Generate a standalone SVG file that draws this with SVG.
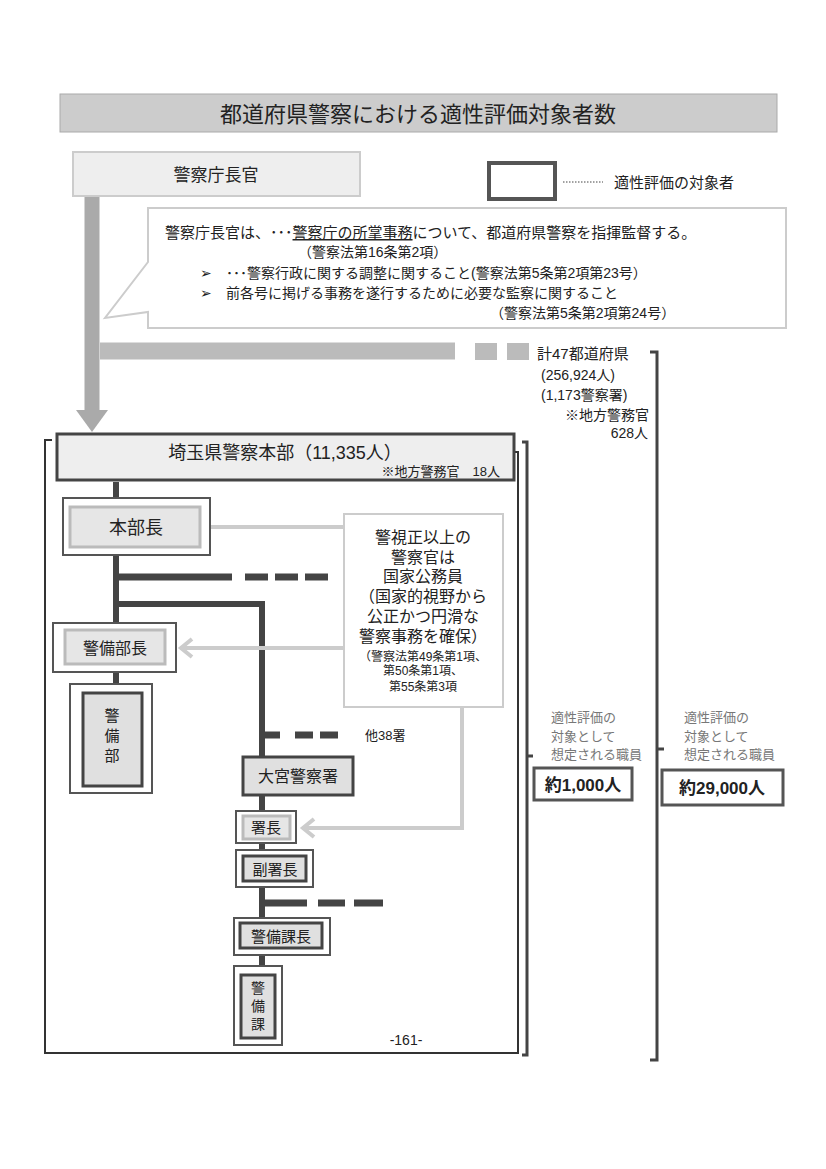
<svg xmlns="http://www.w3.org/2000/svg" width="826" height="1169" viewBox="0 0 826 1169">
<style>
text{font-family:"Liberation Sans","Noto Sans CJK JP",sans-serif;fill:#222}
.c{text-anchor:middle}
.o{fill:#fff;stroke:#555;stroke-width:2}
.i{fill:#e6e6e6;stroke:#bbb;stroke-width:3}
.d{fill:#e0e0e0;stroke:#444;stroke-width:3}
.ln{stroke:#444;stroke-width:6;fill:none}
.g{fill:#777}
.ar{stroke:#ccc;stroke-width:4;fill:none}
</style>
<rect width="826" height="1169" fill="#fff"/>
<g id="title"><rect x="60" y="94" width="717" height="38" fill="#ccc" stroke="#aaa"/>
<text x="418" y="122" class="c" font-size="22">都道府県警察における適性評価対象者数</text></g>
<g id="legend"><rect x="489" y="163" width="66" height="36" fill="#fff" stroke="#555" stroke-width="4"/>
<line x1="563" y1="182" x2="603" y2="182" stroke="#444" stroke-dasharray="1.5 1.5"/>
<text x="614" y="188" font-size="15">適性評価の対象者</text></g>
<g id="connectors">
<path d="M92,196 V412" stroke="#aaa" stroke-width="15"/>
<path d="M76,410 L108,410 L92,432 Z" fill="#aaa"/>
<path d="M100,351 H455" stroke="#bbb" stroke-width="17"/>
<rect x="475" y="343" width="22" height="17" fill="#bbb"/><rect x="507" y="343" width="22" height="17" fill="#bbb"/>
<path d="M116,482 V686" class="ln"/>
<path d="M116,577 H232 M245,577 H268 M275,577 H298 M305,577 H328" stroke="#444" stroke-width="7"/>
<path d="M116,604 H262 V1040" class="ln"/>
<path d="M262,735 H280 M295,735 H313 M320,735 H338" stroke="#444" stroke-width="7"/>
<path d="M262,903 H307 M318,903 H345 M354,903 H383" stroke="#444" stroke-width="7"/>
<path d="M344,527 H182 M192,518 L181,527 L192,536" class="ar"/>
<path d="M344,648 H182 M192,639 L181,648 L192,657" class="ar"/>
<path d="M462,707 V828 H304 M314,819 L303,828 L314,837" class="ar"/>
<path d="M45,455 V440 H52 M45,455 V1053 H518 V452 H512" stroke="#333" stroke-width="2" fill="none"/>
<path d="M522,442 H527 V1055 H522 M527,756 H533" stroke="#444" stroke-width="3" fill="none"/>
<path d="M650,352 H657 V1060 H650 M657,749 H664" stroke="#444" stroke-width="3" fill="none"/>
</g>
<g id="chokan"><rect x="73" y="152" width="287" height="44" fill="#eee" stroke="#ccc" stroke-width="2"/>
<text x="216" y="181" class="c" font-size="17">警察庁長官</text></g>
<g id="callout"><path d="M148,208 H786 V328 H148 V312 L105,318 L148,262 Z" fill="#fff" stroke="#ccc" stroke-width="2"/>
<text x="165" y="238" font-size="15">警察庁長官は、･･･<tspan text-decoration="underline">警察庁の所掌事務</tspan>について、都道府県警察を指揮監督する。</text>
<text x="298" y="257" font-size="14">（警察法第16条第2項）</text>
<text x="200" y="278" font-size="14">➢　･･･警察行政に関する調整に関すること(警察法第5条第2項第23号）</text>
<text x="200" y="298" font-size="14">➢　前各号に掲げる事務を遂行するために必要な監察に関すること</text>
<text x="490" y="318" font-size="14">（警察法第5条第2項第24号）</text></g>
<g id="total" font-size="14"><text x="537" y="359" font-size="15">計47都道府県</text>
<text x="541" y="380">(256,924人)</text><text x="541" y="400">(1,173警察署)</text>
<text x="565" y="420">※地方警務官</text><text x="648" y="438" text-anchor="end">628人</text></g>
<g id="saitama"><rect x="57" y="434" width="457" height="46" fill="#eee" stroke="#444" stroke-width="3"/>
<text x="285" y="459" class="c" font-size="18">埼玉県警察本部（11,335人）</text>
<text x="500" y="476" text-anchor="end" font-size="13">※地方警務官　18人</text></g>
<g id="honbucho"><rect x="63" y="498" width="147" height="57" class="o"/><rect x="70" y="507" width="130" height="40" class="i"/>
<text x="136" y="534" class="c" font-size="18">本部長</text></g>
<g id="keibibucho"><rect x="53" y="623" width="123" height="49" class="o"/><rect x="65" y="630" width="100" height="34" class="i"/>
<text x="115" y="654" class="c" font-size="16">警備部長</text></g>
<g id="keibibu"><rect x="70" y="684" width="82" height="109" class="o"/><rect x="83" y="693" width="59" height="93" class="d"/>
<text x="112" y="721" class="c" font-size="15">警</text><text x="112" y="741" class="c" font-size="15">備</text><text x="112" y="761" class="c" font-size="15">部</text></g>
<g id="shobox"><rect x="344" y="514" width="159" height="193" fill="#fff" stroke="#ccc" stroke-width="2"/>
<g font-size="16"><text x="423" y="543" class="c">警視正以上の</text><text x="423" y="563" class="c">警察官は</text>
<text x="423" y="582" class="c">国家公務員</text><text x="423" y="602" class="c">（国家的視野から</text>
<text x="423" y="622" class="c">公正かつ円滑な</text><text x="423" y="642" class="c">警察事務を確保）</text></g>
<text x="423" y="661" class="c" font-size="12">（警察法第49条第1項、</text><text x="423" y="675" class="c" font-size="12">第50条第1項、</text>
<text x="423" y="691" class="c" font-size="12">第55条第3項</text></g>
<text x="365" y="740" font-size="13">他38署</text>
<g id="omiya"><rect x="243" y="757" width="110" height="38" class="d" fill="#e6e6e6"/>
<text x="298" y="782" class="c" font-size="16">大宮警察署</text></g>
<g id="shocho"><rect x="236" y="811" width="60" height="32" class="o"/><rect x="243" y="816" width="47" height="23" class="i"/>
<text x="266" y="833" class="c" font-size="15">署長</text></g>
<g id="fukushocho"><rect x="236" y="850" width="77" height="37" class="o"/><rect x="243" y="856" width="63" height="25" class="d"/>
<text x="275" y="875" class="c" font-size="15">副署長</text></g>
<g id="keibikacho"><rect x="234" y="918" width="96" height="37" class="o"/><rect x="240" y="923" width="82" height="25" class="d"/>
<text x="281" y="942" class="c" font-size="15">警備課長</text></g>
<g id="keibika"><rect x="234" y="966" width="48" height="79" class="o"/><rect x="241" y="975" width="34" height="63" class="d"/>
<text x="258" y="993" class="c" font-size="14">警</text><text x="258" y="1011" class="c" font-size="14">備</text><text x="258" y="1029" class="c" font-size="14">課</text></g>
<text x="406" y="1045" class="c" font-size="14">-161-</text>
<g id="count1"><text x="551" y="722" font-size="13" class="g">適性評価の</text><text x="551" y="741" font-size="13" class="g">対象として</text><text x="551" y="759" font-size="13" class="g">想定される職員</text>
<rect x="534" y="768" width="98" height="32" fill="#fff" stroke="#555" stroke-width="3"/>
<text x="583" y="791" class="c" font-size="17" font-weight="bold">約1,000人</text></g>
<g id="count2"><text x="684" y="722" font-size="13" class="g">適性評価の</text><text x="684" y="741" font-size="13" class="g">対象として</text><text x="684" y="759" font-size="13" class="g">想定される職員</text>
<rect x="662" y="770" width="121" height="35" fill="#fff" stroke="#555" stroke-width="3"/>
<text x="722" y="794" class="c" font-size="17" font-weight="bold">約29,000人</text></g>
</svg>
